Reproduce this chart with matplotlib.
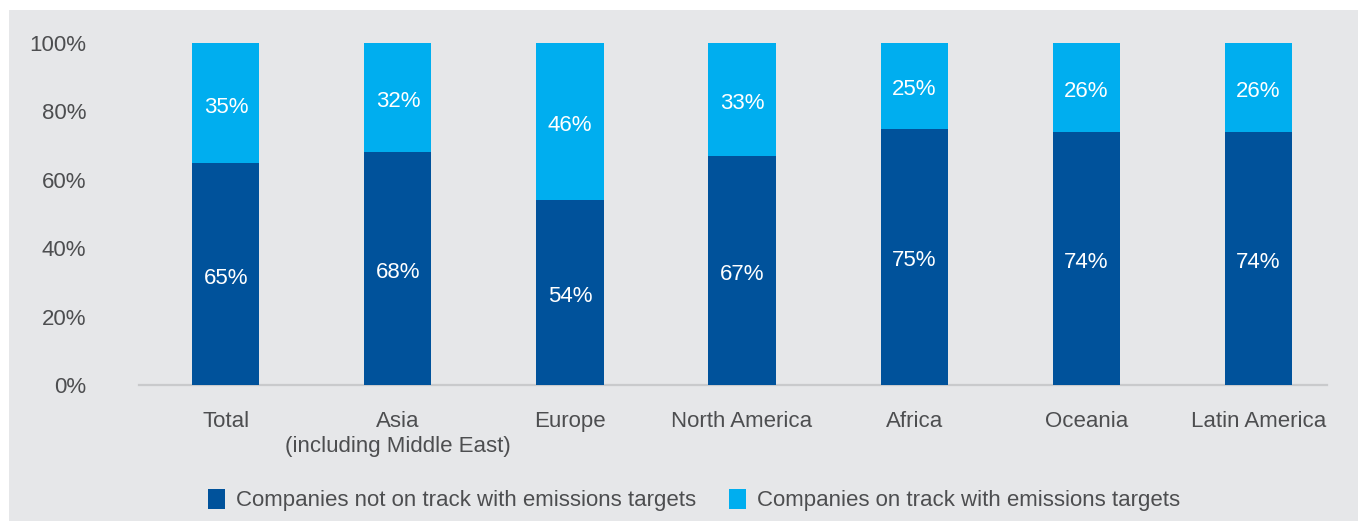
import numpy as np
import matplotlib.pyplot as plt
from matplotlib.patches import Rectangle, Patch

plt.rcParams['font.family'] = ['Liberation Sans', 'DejaVu Sans']

regions = ['Total', 'Asia\n(including Middle East)', 'Europe', 'North America',
           'Africa', 'Oceania', 'Latin America']
not_on_track = [65, 68, 54, 67, 75, 74, 74]
on_track = [35, 32, 46, 33, 25, 26, 26]
y_ticks = [0, 20, 40, 60, 80, 100]

dark_blue = '#00529b'
light_blue = '#00aeef'
bg_grey = '#e6e7e9'
text_grey = '#4d4e50'
fs = 16

W, H = 1358, 521
fig = plt.figure(figsize=(W / 100, H / 100), dpi=100, facecolor='white')

# grey panel behind everything, leaving a thin white margin top and left
fig.patches.append(Rectangle((9 / W, 0), 1 - 9 / W, 1 - 10 / H,
                             transform=fig.transFigure, facecolor=bg_grey,
                             edgecolor='none', zorder=-5))

ax = fig.add_axes([139 / W, (H - 385) / H, 1188 / W, 342 / H])
ax.set_facecolor('none')
ax.set_zorder(2)

x = np.arange(len(regions))
bar_w = 0.39
ax.bar(x, not_on_track, bar_w, color=dark_blue, zorder=2, clip_on=False)
ax.bar(x, on_track, bar_w, bottom=not_on_track, color=light_blue,
       zorder=2, clip_on=False)

# value labels sit roughly in the middle of each segment
for xi, lo, hi in zip(x, not_on_track, on_track):
    ax.annotate(f'{lo}%', (xi, lo / 2), xytext=(0, -3), textcoords='offset points',
                ha='center', va='center', color='white', fontsize=fs)
    ax.annotate(f'{hi}%', (xi, lo + hi / 2), xytext=(0, -3), textcoords='offset points',
                ha='center', va='center', color='white', fontsize=fs)

ax.set_xlim(-0.505, 6.4)
ax.set_ylim(0, 100)
ax.set_yticks(y_ticks)
ax.set_yticklabels([f'{t}%' for t in y_ticks])
ax.set_xticks(x)
ax.set_xticklabels(regions, linespacing=1.25)

ax.tick_params(axis='y', length=0, pad=38, labelsize=fs, labelcolor=text_grey)
ax.tick_params(axis='x', length=0, pad=19, labelsize=fs, labelcolor=text_grey)

for side in ['top', 'right', 'left']:
    ax.spines[side].set_visible(False)
ax.spines['bottom'].set_color('#c9cacc')
ax.spines['bottom'].set_linewidth(1.6)
ax.spines['bottom'].set_zorder(1)

handles = [Patch(facecolor=dark_blue, edgecolor='none'),
           Patch(facecolor=light_blue, edgecolor='none')]
labels = ['Companies not on track with emissions targets',
          'Companies on track with emissions targets']
fig.legend(handles, labels, loc='center', bbox_to_anchor=(0.511, 21 / H), ncol=2,
           frameon=False, fontsize=fs, labelcolor=text_grey,
           handlelength=0.75, handleheight=1.0, handletextpad=0.5,
           columnspacing=1.5, borderaxespad=0)

fig.savefig('out.png', dpi=100, facecolor='white')
